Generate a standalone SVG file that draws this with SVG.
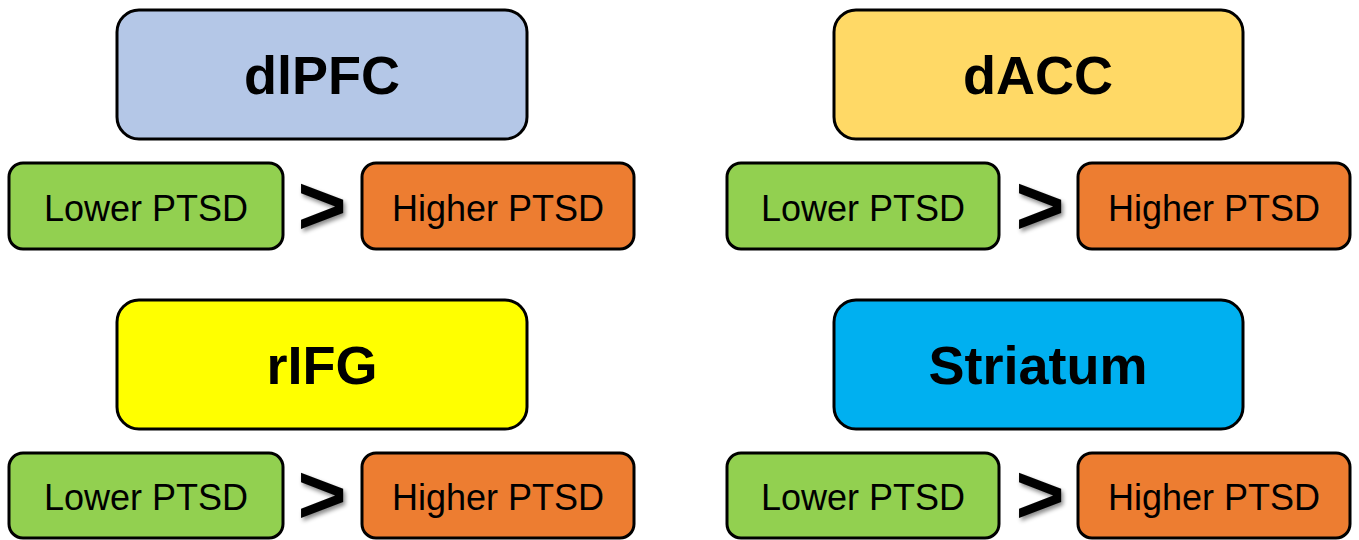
<svg xmlns="http://www.w3.org/2000/svg" width="1359" height="540" viewBox="0 0 1359 540">
<defs>
<filter id="sh" x="-30%" y="-30%" width="160%" height="160%"><feDropShadow dx="2" dy="3" stdDeviation="2" flood-color="#000" flood-opacity="0.45"/></filter>
</defs>
<style>
.t{stroke:#000;stroke-width:3}
.h{font-family:"Liberation Sans",Arial,sans-serif;font-weight:bold;font-size:54px;text-anchor:middle}
.l{font-family:"Liberation Sans",Arial,sans-serif;font-size:36px;text-anchor:middle}
.g{font-family:"Liberation Sans",Arial,sans-serif;font-weight:bold;font-size:84px;text-anchor:middle}
.gr{fill:#92d050}.or{fill:#ed7d31}
</style>
<rect width="1359" height="540" fill="#fff"/>
<g id="dlPFC"><rect class="t" x="117" y="10" width="410" height="129" rx="22" fill="#b4c7e7"/><text class="h" x="322" y="94">dlPFC</text></g>
<g id="dlPFC-lower"><rect class="t gr" x="9" y="163" width="274" height="86" rx="14"/><text class="l" x="146" y="221">Lower PTSD</text></g>
<g id="dlPFC-gt"><text class="g" x="322" y="234" filter="url(#sh)">&gt;</text></g>
<g id="dlPFC-higher"><rect class="t or" x="362" y="163" width="272" height="86" rx="14"/><text class="l" x="498" y="221">Higher PTSD</text></g>

<g id="dACC"><rect class="t" x="834" y="10" width="409" height="129" rx="22" fill="#ffd966"/><text class="h" x="1038" y="94">dACC</text></g>
<g id="dACC-lower"><rect class="t gr" x="727" y="163" width="272" height="86" rx="14"/><text class="l" x="863" y="221">Lower PTSD</text></g>
<g id="dACC-gt"><text class="g" x="1040" y="234" filter="url(#sh)">&gt;</text></g>
<g id="dACC-higher"><rect class="t or" x="1078" y="163" width="272" height="86" rx="14"/><text class="l" x="1214" y="221">Higher PTSD</text></g>

<g id="rIFG"><rect class="t" x="117" y="300" width="410" height="129" rx="22" fill="#ffff00"/><text class="h" x="322" y="384">rIFG</text></g>
<g id="rIFG-lower"><rect class="t gr" x="9" y="453" width="274" height="85" rx="14"/><text class="l" x="146" y="510">Lower PTSD</text></g>
<g id="rIFG-gt"><text class="g" x="322" y="523" filter="url(#sh)">&gt;</text></g>
<g id="rIFG-higher"><rect class="t or" x="362" y="453" width="272" height="85" rx="14"/><text class="l" x="498" y="510">Higher PTSD</text></g>

<g id="Striatum"><rect class="t" x="834" y="300" width="409" height="129" rx="22" fill="#00b0f0"/><text class="h" x="1038" y="384">Striatum</text></g>
<g id="Striatum-lower"><rect class="t gr" x="727" y="453" width="272" height="85" rx="14"/><text class="l" x="863" y="510">Lower PTSD</text></g>
<g id="Striatum-gt"><text class="g" x="1040" y="523" filter="url(#sh)">&gt;</text></g>
<g id="Striatum-higher"><rect class="t or" x="1078" y="453" width="272" height="85" rx="14"/><text class="l" x="1214" y="510">Higher PTSD</text></g>
<g id="connectors"/>
</svg>
